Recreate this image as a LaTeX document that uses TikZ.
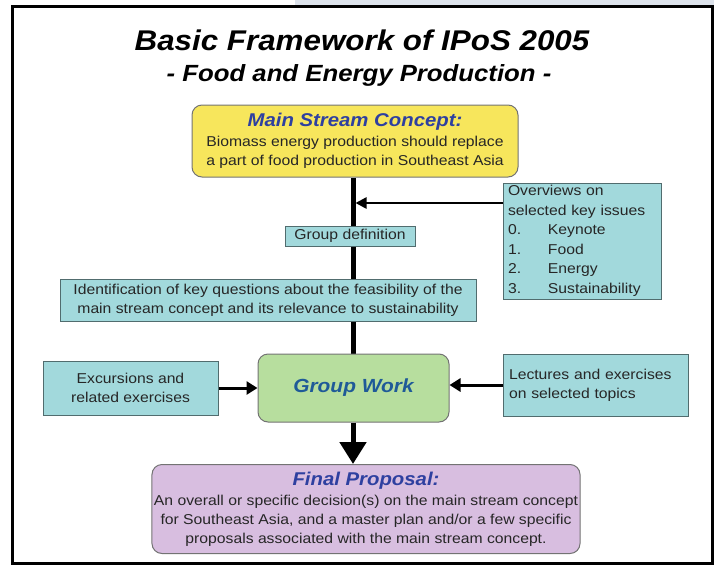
\documentclass[tikz,border=0pt]{standalone}
\usepackage{fontspec}
\setmainfont[FakeStretch=1.1]{Liberation Sans}
\usepackage{xcolor}
\usetikzlibrary{arrows.meta,backgrounds,positioning}

\definecolor{yellowfill}{HTML}{F7E65C}
\definecolor{cyanfill}{HTML}{A2D9DC}
\definecolor{greenfill}{HTML}{B7DE9E}
\definecolor{purplefill}{HTML}{D8BEE0}
\definecolor{headblue}{HTML}{2E40A0}
\definecolor{workblue}{HTML}{1F5A98}
\definecolor{bandgray}{HTML}{DCE2EB}

\newcommand{\boxhead}[1]{{\fontsize{18.5}{22}\selectfont\bfseries\itshape\color{headblue}#1}}

\begin{document}
\begin{tikzpicture}[x=1pt,y=-1pt,
    basebox/.style={draw=black!55, line width=1pt, inner sep=2pt, align=center,
        text=black!85, font=\fontsize{14.3}{19}\selectfont},
    cyanbox/.style={basebox, fill=cyanfill, draw=black!50!cyanfill},
    roundbox/.style={basebox, rounded corners=10pt},
    sidearrow/.style={line width=3pt, -{Triangle[length=11pt,width=13pt]}}]

    \useasboundingbox (0,0) rectangle (714,565);
    \fill[bandgray] (295,0) rectangle (714,5);
    \draw[line width=3pt] (12,6) rectangle (712,563);

    % title
    \node (title) at (362,40) {\fontsize{28.5}{30}\selectfont\bfseries\itshape Basic Framework of IPoS 2005};
    \node (subtitle) at (359,75) {\fontsize{23.4}{25}\selectfont\bfseries\itshape - Food and Energy Production -};

    % boxes
    \node[roundbox, fill=yellowfill, minimum width=326pt, minimum height=72pt] (main) at (355,141)
        {\boxhead{Main Stream Concept:}\\[1pt]Biomass energy production should replace\\a part of food production in Southeast Asia};
    \node[cyanbox, align=left, minimum width=158pt, minimum height=116pt, text width=148pt,
          font=\fontsize{14.3}{19.5}\selectfont] (overview) at (582,241)
        {Overviews on\\selected key issues\\\makebox[40pt][l]{0.}Keynote\\\makebox[40pt][l]{1.}Food\\
         \makebox[40pt][l]{2.}Energy\\\makebox[40pt][l]{3.}Sustainability};
    \node[cyanbox, minimum width=130pt, minimum height=20pt, inner sep=0pt] (groupdef) at (350,236) {Group definition};
    \node[cyanbox, minimum width=416pt, minimum height=42pt] (ident) at (268,300)
        {Identification of key questions about the feasibility of the\\main stream concept and its relevance to sustainability};
    \node[roundbox, fill=greenfill, minimum width=191pt, minimum height=68pt] (work) at (353.5,388)
        {\fontsize{19}{22}\selectfont\bfseries\itshape\color{workblue}Group Work};
    \node[cyanbox, minimum width=175pt, minimum height=54pt] (excur) at (130.5,388)
        {Excursions and\\related exercises};
    \node[cyanbox, align=left, minimum width=185pt, minimum height=62pt, text width=173pt] (lect) at (595.5,385)
        {Lectures and exercises\\on selected topics};
    \node[roundbox, fill=purplefill, minimum width=428pt, minimum height=89pt] (final) at (366,509)
        {\boxhead{Final Proposal:}\\[1pt]An overall or specific decision(s) on the main stream concept\\
         for Southeast Asia, and a master plan and/or a few specific\\
         proposals associated with the main stream concept.};

    % connectors
    \coordinate (spine) at (353,203);
    \begin{pgfonlayer}{background}
        \draw[line width=5pt] (main.south -| spine) -- (work.north -| spine);
    \end{pgfonlayer}
    \draw[line width=2.5pt, -{Triangle[length=11pt,width=11pt]}] (overview.west |- spine) -- ([xshift=2.5pt]spine);
    \draw[sidearrow] (excur.east) -- (excur.east -| work.west);
    \draw[sidearrow] (lect.west) -- (lect.west -| work.east);
    \draw[line width=5pt, -{Triangle[length=22pt,width=26pt]}] (work.south -| spine) -- (final.north -| spine);

\end{tikzpicture}
\end{document}
